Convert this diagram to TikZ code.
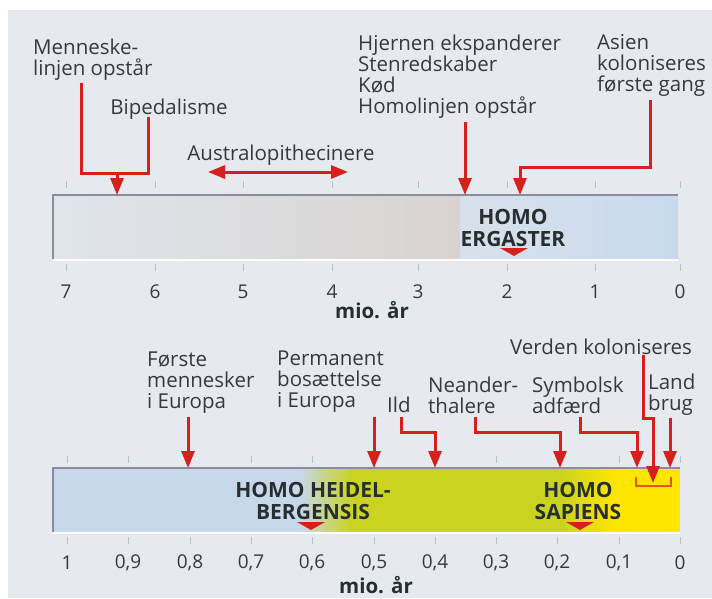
\documentclass[tikz,border=0pt]{standalone}
\usepackage{fontspec}
\setmainfont{Open Sans}
\usetikzlibrary{arrows.meta}

\definecolor{paper}{RGB}{230,234,238}
\definecolor{arrowred}{RGB}{214,32,28}
\definecolor{bracketred}{RGB}{232,86,30}
\definecolor{textgrey}{RGB}{55,57,61}
\definecolor{speciesgrey}{RGB}{40,46,48}
\definecolor{barline}{RGB}{140,140,158}
\definecolor{tickgrey}{RGB}{185,189,197}
\definecolor{earlygrey}{RGB}{224,229,236}
\definecolor{beige}{RGB}{216,211,208}
\definecolor{paleblue}{RGB}{216,225,235}
\definecolor{ergblue}{RGB}{200,218,238}
\definecolor{heidblue}{RGB}{199,216,235}
\definecolor{heidgreen}{RGB}{202,211,32}
\definecolor{sapyellow}{RGB}{255,230,0}

\begin{document}
\begin{tikzpicture}[x=1pt, y=-1pt,
    lbl/.style={font=\fontsize{20.5}{21}\selectfont, text=textgrey, inner sep=0pt, align=left, anchor=west},
    species/.style={font=\fontsize{21}{21.5}\selectfont\bfseries, text=speciesgrey, inner sep=0pt, align=center},
    num/.style={font=\fontsize{19}{20}\selectfont, text=textgrey, inner sep=0pt},
    unit/.style={font=\fontsize{20.5}{21}\selectfont\bfseries, text=speciesgrey, inner sep=0pt},
    redline/.style={draw=arrowred, line width=3pt},
    redarrow/.style={redline, -{Triangle[width=13pt, length=17pt]}}]
    % paper
    \useasboundingbox (0,0) rectangle (712,598);
    \fill[white] (0,0) rectangle (712,598);
    \fill[paper] (8,10) rectangle (712,598);

    % upper bar
    \shade[left color=earlygrey, right color=beige] (53,195) rectangle (460,259);
    \shade[left color=paleblue, right color=ergblue] (460,195) rectangle (678,259);
    \draw[white, line width=1.5pt] (53,260) -- (678,260);
    \draw[barline, line width=1.3pt] (53,259) |- (678,195);
    \draw[tickgrey, line width=0.8pt] (66,181) -- (66,188) (155,181) -- (155,188) (243,181) -- (243,188) (332,181) -- (332,188)
        (418,181) -- (418,188) (507,181) -- (507,188) (595,181) -- (595,188) (680,181) -- (680,188);
    \draw[tickgrey, line width=0.8pt] (66,264) -- (66,271) (155,264) -- (155,271) (243,264) -- (243,271) (332,264) -- (332,271)
        (418,264) -- (418,271) (507,264) -- (507,271) (595,264) -- (595,271) (680,264) -- (680,271);
    \node[num] (t7) at (66,292) {7};
    \node[num] (t6) at (155,292) {6};
    \node[num] (t5) at (243,292) {5};
    \node[num] (t4) at (332,292) {4};
    \node[num] (t3) at (418,292) {3};
    \node[num] (t2) at (507,292) {2};
    \node[num] (t1) at (595,292) {1};
    \node[num] (t0) at (680,292) {0};
    \node[unit] (topunit) at (372,310) {mio. år};
    \node[species] (ergaster) at (513,228) {HOMO\\ERGASTER};
    \fill[arrowred] (500,248) -- (528,248) -- (514,256) -- cycle;

    % upper events
    \node[lbl] (menneske) at (33,60) {Menneske-\\linjen opstår};
    \node[lbl, anchor=center] (bipedal) at (169,109) {Bipedalisme};
    \node[lbl, anchor=center] (austral) at (281,155) {Australopithecinere};
    \node[lbl] (hjerne) at (358,77) {Hjernen ekspanderer\\Stenredskaber\\Kød\\Homolinjen opstår};
    \node[lbl] (asien) at (597,65) {Asien\\koloniseres\\første gang};
    \coordinate (mn-a) at (81,83);
    \coordinate (bp-a) at (148,117);
    \coordinate (mn-j) at (117,173);
    \coordinate (mn-b) at (117,195);
    \draw[redline] (mn-a) |- (mn-j) -| (bp-a);
    \draw[redarrow] (mn-j) -- (mn-b);
    \coordinate (au-l) at (208,172);
    \coordinate (au-r) at (348,172);
    \draw[redline, {Triangle[width=13pt, length=17pt]}-{Triangle[width=13pt, length=17pt]}] (au-l) -- (au-r);
    \coordinate (hj-a) at (465,122);
    \coordinate (hj-b) at (465,195);
    \draw[redarrow] (hj-a) -- (hj-b);
    \coordinate (as-a) at (650,100);
    \coordinate (as-m) at (520,167);
    \coordinate (as-b) at (520,195);
    \draw[redarrow] (as-a) |- (as-m) -- (as-b);

    % lower bar
    \fill[heidblue] (53,468) rectangle (300,532);
    \shade[left color=heidblue, right color=heidgreen] (300,468) rectangle (352,532);
    \fill[heidgreen] (352,468) rectangle (560,532);
    \shade[left color=heidgreen, right color=sapyellow] (560,468) rectangle (615,532);
    \fill[sapyellow] (615,468) rectangle (680,532);
    \draw[white, line width=1.5pt] (53,533) -- (680,533);
    \draw[barline, line width=1.3pt] (53,532) |- (680,468);
    \draw[tickgrey, line width=0.8pt] (67,456) -- (67,463) (128,456) -- (128,463) (190,456) -- (190,463) (251,456) -- (251,463)
        (312,456) -- (312,463) (374,456) -- (374,463) (435,456) -- (435,463) (496,456) -- (496,463)
        (557,456) -- (557,463) (619,456) -- (619,463) (680,456) -- (680,463);
    \draw[tickgrey, line width=0.8pt] (67,537) -- (67,544) (128,537) -- (128,544) (190,537) -- (190,544) (251,537) -- (251,544)
        (312,537) -- (312,544) (374,537) -- (374,544) (435,537) -- (435,544) (496,537) -- (496,544)
        (557,537) -- (557,544) (619,537) -- (619,544) (680,537) -- (680,544);
    \node[num] (b10) at (67,563) {1};
    \node[num] (b9) at (128,563) {0,9};
    \node[num] (b8) at (190,563) {0,8};
    \node[num] (b7) at (251,563) {0,7};
    \node[num] (b6) at (312,563) {0,6};
    \node[num] (b5) at (374,563) {0,5};
    \node[num] (b4) at (435,563) {0,4};
    \node[num] (b3) at (496,563) {0,3};
    \node[num] (b2) at (557,563) {0,2};
    \node[num] (b1) at (619,563) {0,1};
    \node[num] (b0) at (680,563) {0};
    \node[unit] (lowunit) at (376,585) {mio. år};
    \node[species] (heidel) at (313,501) {HOMO HEIDEL-\\BERGENSIS};
    \node[species] (sapiens) at (578,501) {HOMO\\SAPIENS};
    \fill[arrowred] (297,522) -- (325,522) -- (311,530) -- cycle;
    \fill[arrowred] (566,522) -- (594,522) -- (580,530) -- cycle;

    % lower events
    \node[lbl] (europa) at (147,383) {Første\\mennesker\\i Europa};
    \node[lbl] (bosat) at (277,382) {Permanent\\bosættelse\\i Europa};
    \node[lbl] (ild) at (387,405) {Ild};
    \node[lbl] (neander) at (428,395) {Neander-\\thalere};
    \node[lbl] (symbol) at (532,395) {Symbolsk\\adfærd};
    \node[lbl] (land) at (648,395) {Land\\brug};
    \node[lbl] (verden) at (510,347) {Verden koloniseres};
    \coordinate (fm-a) at (188,417);
    \coordinate (fm-b) at (188,468);
    \draw[redarrow] (fm-a) -- (fm-b);
    \coordinate (pb-a) at (374,417);
    \coordinate (pb-b) at (374,468);
    \draw[redarrow] (pb-a) -- (pb-b);
    \coordinate (il-a) at (401,417);
    \coordinate (il-m) at (435,432);
    \coordinate (il-b) at (435,468);
    \draw[redarrow] (il-a) |- (il-m) -- (il-b);
    \coordinate (nd-a) at (475,417);
    \coordinate (nd-m) at (560,432);
    \coordinate (nd-b) at (560,468);
    \draw[redarrow] (nd-a) |- (nd-m) -- (nd-b);
    \coordinate (sy-a) at (580,417);
    \coordinate (sy-m) at (637,432);
    \coordinate (sy-b) at (637,468);
    \draw[redarrow] (sy-a) |- (sy-m) -- (sy-b);
    \coordinate (vk-a) at (643,355);
    \coordinate (vk-m) at (653,418);
    \coordinate (vk-b) at (653,483);
    \draw[redarrow] (vk-a) |- (vk-m) -- (vk-b);
    \coordinate (lb-a) at (670,418);
    \coordinate (lb-b) at (670,468);
    \draw[redarrow] (lb-a) -- (lb-b);
    \coordinate (br-l) at (636,477);
    \coordinate (br-r) at (671,477);
    \draw[bracketred, line width=2.5pt] (br-l) |- (671,486) -- (br-r);
\end{tikzpicture}
\end{document}
